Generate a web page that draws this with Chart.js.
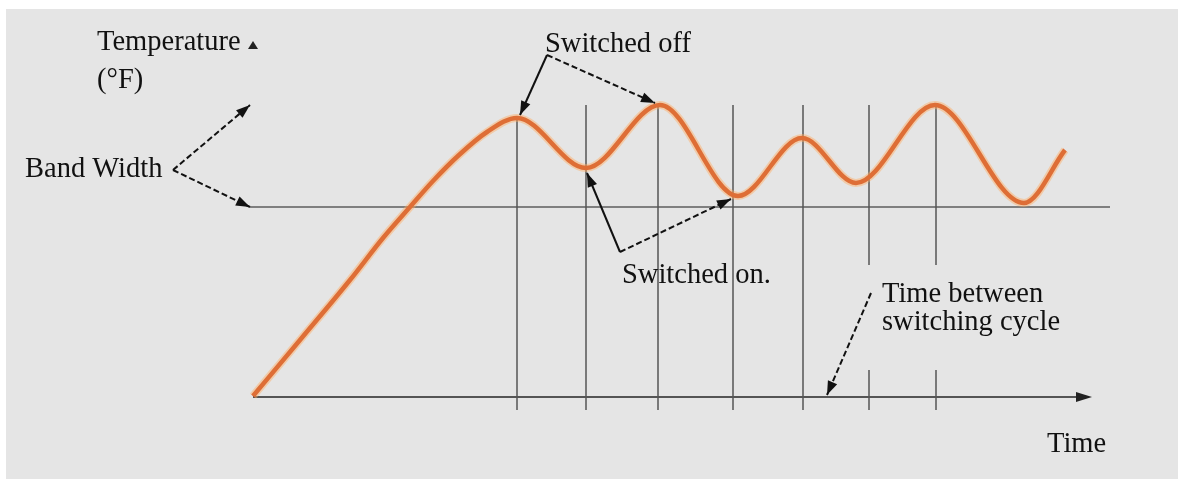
<!DOCTYPE html>
<html><head><meta charset="utf-8">
<script src="https://cdn.jsdelivr.net/npm/chart.js@4.4.0/dist/chart.umd.min.js"></script>
<style>html,body{margin:0;padding:0;background:#fff;} canvas{display:block;}</style>
</head><body>
<canvas id="c" width="1178" height="479"></canvas>
<script>
// Time (arbitrary units) and temperature (arbitrary units)
const timeValues = [0, 4.7, 9.7, 13, 15.7, 18, 20.6, 23.4, 26.4, 33.3, 40.7, 48.5, 54.9, 60.3, 68.2, 77.1, 81.2];
const tempValues = [0.1, 5.7, 11.7, 15.9, 19, 21.6, 24.2, 26.5, 27.9, 22.9, 29.2, 20.1, 25.9, 21.4, 29.2, 19.4, 24.7];
const switchTimes = [26.4, 33.3, 40.5, 48.0, 55.0, 61.6, 68.3];
const bandLow = 19;
const bandHigh = 29.2;
const labelTexts = ["Temperature", "(°F)", "Band Width", "Switched off", "Switched on.", "Time between", "switching cycle", "Time"];

const points = timeValues.map((t, i) => ({x: t, y: tempValues[i]}));

function head(ctx, x1, y1, x2, y2, len, w) {
  const a = Math.atan2(y2 - y1, x2 - x1);
  ctx.save();
  ctx.setLineDash([]);
  ctx.beginPath();
  ctx.moveTo(x2, y2);
  ctx.lineTo(x2 - len * Math.cos(a) + w * Math.sin(a), y2 - len * Math.sin(a) - w * Math.cos(a));
  ctx.lineTo(x2 - len * Math.cos(a) - w * Math.sin(a), y2 - len * Math.sin(a) + w * Math.cos(a));
  ctx.closePath();
  ctx.fill();
  ctx.restore();
}

const bgPlugin = {
  id: 'bg',
  beforeDraw(chart) {
    const ctx = chart.ctx;
    ctx.save();
    ctx.fillStyle = '#ffffff';
    ctx.fillRect(0, 0, chart.width, chart.height);
    ctx.fillStyle = '#e5e5e5';
    ctx.fillRect(6, 9, chart.width - 6, chart.height - 9);
    ctx.restore();
  }
};

const framePlugin = {
  id: 'frame',
  beforeDatasetsDraw(chart) {
    const ctx = chart.ctx, xs = chart.scales.x, ys = chart.scales.y;
    const X = v => xs.getPixelForValue(v), Y = v => ys.getPixelForValue(v);
    ctx.save();
    // band lower line
    ctx.strokeStyle = '#7f7f7f';
    ctx.lineWidth = 2;
    ctx.beginPath();
    ctx.moveTo(X(-0.3), Y(bandLow));
    ctx.lineTo(X(85.7), Y(bandLow));
    ctx.stroke();
    // vertical switching lines
    ctx.strokeStyle = '#555';
    ctx.lineWidth = 1.5;
    switchTimes.forEach((t, i) => {
      ctx.beginPath();
      ctx.moveTo(X(t), Y(i === 0 ? tempValues[8] : bandHigh));
      ctx.lineTo(X(t), Y(-1.3));
      ctx.stroke();
    });
    // mask behind the "Time between" label
    ctx.fillStyle = '#e5e5e5';
    ctx.fillRect(X(60.3), Y(13.2), X(81) - X(60.3), Y(2.7) - Y(13.2));
    // x axis
    ctx.strokeStyle = '#555';
    ctx.fillStyle = '#222';
    ctx.lineWidth = 2;
    ctx.beginPath();
    ctx.moveTo(X(0), Y(0));
    ctx.lineTo(X(83.5), Y(0));
    ctx.stroke();
    head(ctx, X(0), Y(0), X(83.9), Y(0), 16, 5);
    // y axis arrow tip only
    head(ctx, X(0), Y(30), X(0), Y(35.6), 8, 5);
    ctx.restore();
  },
  afterDatasetsDraw(chart) {
    const ctx = chart.ctx, xs = chart.scales.x, ys = chart.scales.y;
    const X = v => xs.getPixelForValue(v), Y = v => ys.getPixelForValue(v);
    ctx.save();
    ctx.strokeStyle = '#111';
    ctx.fillStyle = '#111';
    ctx.lineWidth = 2;
    const arrow = (a, b, dash) => {
      ctx.setLineDash(dash ? [6, 3] : []);
      ctx.beginPath();
      ctx.moveTo(X(a[0]), Y(a[1]));
      ctx.lineTo(X(b[0]), Y(b[1]));
      ctx.stroke();
      head(ctx, X(a[0]), Y(a[1]), X(b[0]), Y(b[1]), 14, 5);
    };
    // Band Width
    arrow([-8, 22.7], [-0.3, 29.2], true);
    arrow([-8, 22.7], [-0.3, 19], true);
    // Switched off
    arrow([29.4, 34.2], [26.7, 28.2], false);
    arrow([29.4, 34.2], [40.2, 29.4], true);
    // Switched on
    arrow([36.7, 14.5], [33.4, 22.4], false);
    arrow([36.7, 14.5], [47.8, 19.8], true);
    // Time between switching cycle
    arrow([61.8, 10.4], [57.4, 0.2], true);
    ctx.setLineDash([]);
    // labels
    ctx.fillStyle = '#111';
    ctx.font = '28.5px "Liberation Serif"';
    ctx.textBaseline = 'alphabetic';
    const put = (s, t, v) => ctx.fillText(s, X(t), Y(v));
    put(labelTexts[0], -15.6, 34.7);
    put(labelTexts[1], -15.6, 30.9);
    put(labelTexts[2], -22.8, 22.0);
    put(labelTexts[3], 29.2, 34.5);
    put(labelTexts[4], 36.9, 11.4);
    put(labelTexts[5], 62.9, 9.5);
    put(labelTexts[6], 62.9, 6.7);
    put(labelTexts[7], 79.4, -5.5);
    ctx.restore();
  }
};

new Chart(document.getElementById('c'), {
  type: 'line',
  data: {
    datasets: [
      {data: points, borderColor: 'rgba(255,170,95,0.45)', borderWidth: 8, pointRadius: 0, cubicInterpolationMode: 'monotone', clip: false},
      {data: points, borderColor: '#c43c14', borderWidth: 4.5, pointRadius: 0, cubicInterpolationMode: 'monotone', clip: false}
    ]
  },
  options: {
    responsive: false,
    animation: false,
    events: [],
    layout: {padding: {left: 253, right: 85, top: 97, bottom: 82}},
    plugins: {legend: {display: false}, tooltip: {enabled: false}},
    scales: {
      x: {type: 'linear', min: 0, max: 84, display: false},
      y: {type: 'linear', min: 0, max: 30, display: false}
    }
  },
  plugins: [bgPlugin, framePlugin]
});
</script>
</body></html>
